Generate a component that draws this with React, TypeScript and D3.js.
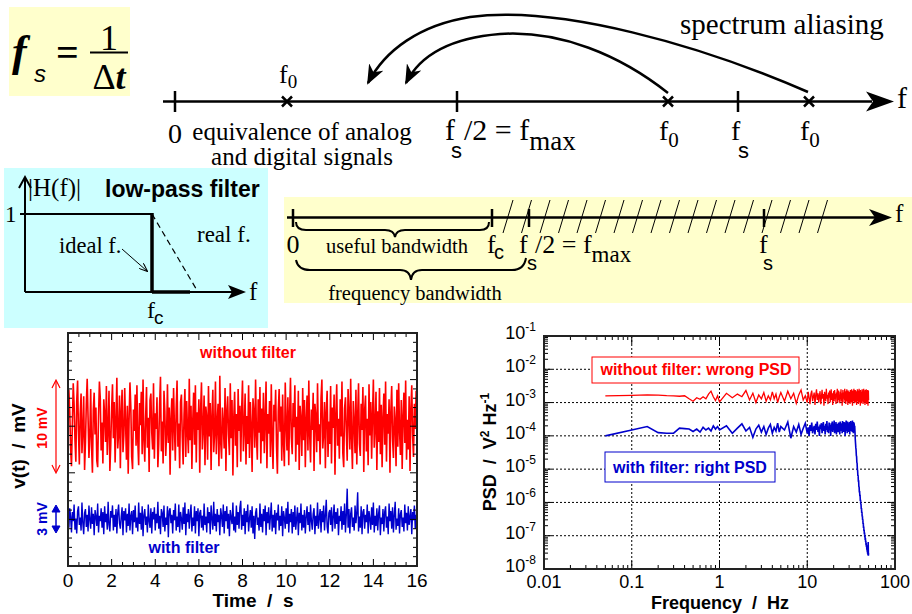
import React from "react";
import * as d3 from "d3";

const SERIF = "'Liberation Serif','Times New Roman',serif";
const SANS = "'Liberation Sans',Arial,sans-serif";

// ---- time traces (mV), sampled every 0.04 s ----
const TIME_STEP_S = 0.04;
const RED_MV = [
  0.8, 3.9, 1.6, -2.4, -4.3, 0.2, 4.6, 2.3, -1.5, -3.8,
  2.7, 4.9, -0.6, -4.1, 1.3, 3.5, -2.9, -0.4, 3.2, -4.7,
  -1.8, 2.4, 5.1, 0.9, -3.4, -1.1, 4.0, -2.2, -5.0, 1.7,
  3.6, -0.9, 2.0, -3.7, -4.4, 1.1, 4.8, 3.0, -2.6, 0.4,
  -4.0, 2.9, 1.2, -1.7, 4.3, -3.1, -0.2, 3.8, -4.8, -2.0,
  1.9, 4.5, -1.3, 2.6, -3.9, 0.6, 5.2, -2.4, -0.8, 3.3,
  -4.5, 1.5, 3.9, -2.8, -1.0, 4.1, 0.3, -3.6, 2.2, -5.1,
  0.7, 4.7, 2.1, -3.3, -4.6, 1.8, -0.5, 3.4, -2.1, 4.4,
  -1.6, -4.2, 2.5, 0.1, 3.7, -3.0, 5.0, -1.4, -3.8, 1.0,
  4.2, -2.3, 0.9, -4.9, 2.8, 3.5, -0.7, -2.5, 4.6, -3.5,
  1.4, -0.3, 3.1, -4.4, -1.9, 2.3, 5.3, -2.7, 0.5, -4.0,
  3.8, 1.6, -3.2, -0.9, 4.5, -1.8, 2.0, -5.2, 0.8, 3.0,
  -2.6, 4.1, -0.1, -3.7, 1.9, 4.9, -2.2, 0.3, -4.5, 2.6,
  3.4, -1.2, -4.1, 1.2, 4.0, -3.3, 2.7, -0.6, -2.9, 5.1,
  -1.5, 2.2, -4.6, 0.6, 3.6, -2.0, 4.4, -3.9, 1.5, -0.4,
  2.9, -5.0, 1.8, 4.7, -2.5, -0.2, 3.3, -4.2, 2.1, 0.9,
  -3.6, 4.3, -1.1, 2.5, -4.7, 1.0, 3.9, -2.8, -0.8, 4.8,
  -3.0, 0.4, 2.4, -4.3, 5.4, -1.7, -3.5, 2.0, 0.2, -2.4,
  4.1, -4.8, 1.6, 3.2, -0.9, -3.1, 4.6, -1.3, 2.8, -5.3,
  0.9, 3.7, -2.1, 1.3, -4.4, 4.0, -0.5, 2.2, -3.8, 1.7,
  4.9, -2.7, -0.3, 3.5, -4.1, 1.1, -1.9, 4.4, -3.4, 2.6,
  0.0, -4.9, 3.0, 1.5, -2.3, 5.0, -1.0, -3.6, 2.9, -0.7,
  4.2, -4.0, 1.9, -1.6, 3.6, -2.9, 0.7, 4.8, -4.5, 1.3,
  -0.8, 2.7, -3.3, 4.5, -1.4, -4.6, 2.3, 0.5, 3.9, -2.2,
  -5.1, 1.6, 4.0, -0.6, 2.1, -3.7, 3.4, -1.8, -4.3, 4.7,
  0.3, -2.6, 3.1, -4.2, 1.4, 5.2, -1.2, -3.0, 2.5, -0.1,
  4.4, -3.8, 1.0, -2.0, 3.8, -4.7, 2.2, 0.8, -3.2, 4.1,
  -1.5, 2.8, -4.4, 0.6, 3.3, -2.6, 4.9, -0.9, -3.9, 1.8,
  -0.4, 3.6, -4.8, 2.4, 1.1, -2.8, 4.6, -1.6, 0.2, -4.1,
  3.0, 5.0, -2.4, -0.7, 2.6, -4.5, 1.5, 3.8, -3.3, 0.5,
  -1.9, 4.3, -4.0, 2.0, -0.2, 3.4, -5.2, 1.2, 4.5, -2.1,
  0.8, -3.5, 2.9, -1.1, 4.8, -2.9, -4.4, 1.9, 3.1, -0.6,
  -3.7, 4.0, 1.4, -2.5, 5.1, -1.3, -4.6, 2.7, 0.4, -2.9,
  3.9, -4.1, 1.1, 4.6, -1.9, -3.2, 2.4, -0.4, 4.2, -4.9,
  1.7, 3.3, -2.7, 0.8, -4.2, 4.5, -1.0, 2.6, -3.5, 1.2,
  5.0, -2.3, -0.1, 3.7, -4.7, 1.6, -1.7, 4.1, -3.0, 2.3,
  -4.4, 0.9, 3.5, -2.0, 4.8, -3.8, 1.3, -0.8, 2.9, -5.0,
  1.5, 4.3, -1.4, -3.4, 2.1, 0.6, -4.3, 3.9, -2.2, 4.6,
  -0.5, -3.1, 2.8, -4.6, 1.0, 3.6, -1.8, 4.9, -3.6, 0.7,
  -2.5, 3.2, -4.8, 1.9, 4.4, -1.1, -3.3, 2.4, -0.3, 3.8,
  -2.0,
];
const BLUE_MV = [
  0.4, -0.9, 1.2, 0.3, -1.4, 0.8, -0.2, 1.6, -1.1, 0.1,
  -1.5, 0.9, 1.4, -0.6, 0.2, -1.2, 1.8, -0.4, -1.6, 0.7,
  1.1, -0.8, 0.5, -1.3, 1.5, 0.0, -1.0, 1.3, -0.5, 0.6,
  -1.7, 1.0, 0.3, -0.7, 1.7, -1.4, 0.4, -0.2, 1.2, -0.9,
  0.8, -1.6, 1.4, -0.3, 0.6, -1.1, 1.9, -0.6, -1.3, 0.9,
  0.2, 1.5, -1.2, 0.5, -0.8, 1.1, -1.5, 0.7, 1.6, -0.4,
  -1.0, 0.3, 1.3, -1.7, 0.9, -0.1, 1.2, -1.4, 0.6, -0.7,
  1.7, -1.2, 0.4, 0.9, -1.6, 1.0, -0.3, 1.5, -0.9, 0.2,
  -1.3, 1.8, -0.5, 0.7, -1.1, 1.4, -1.8, 0.5, 1.1, -0.6,
  0.3, -1.4, 1.6, -0.2, -0.9, 1.2, -1.5, 0.8, 0.0, 1.3,
  -1.2, 0.6, -0.4, 1.9, -1.0, 0.4, -1.6, 1.1, 0.7, -0.8,
  1.5, -1.3, 0.2, -0.6, 1.4, -1.9, 0.9, 1.2, -0.4, 0.5,
  -1.5, 1.0, -0.1, 1.7, -1.2, 0.3, -0.8, 1.6, -1.4, 0.8,
  0.1, -1.1, 1.3, -0.5, 1.8, -1.7, 0.6, -0.3, 1.1, -1.0,
  0.5, 1.6, -1.3, 0.2, -0.7, 1.4, -1.5, 0.9, -0.2, 1.2,
  -1.8, 0.7, 1.0, -0.9, 0.4, -1.2, 1.7, -0.6, 0.3, -1.4,
  1.3, -0.4, 0.8, -1.6, 1.5, 0.1, -1.1, 1.9, -0.7, 0.6,
  -1.3, 1.1, -0.3, 0.5, -1.7, 1.2, 0.4, -0.8, 1.6, -1.5,
  0.9, -0.2, 1.4, -1.0, 0.6, -1.8, 1.0, 0.2, -0.5, 1.8,
  -1.2, 0.3, -1.4, 1.5, -0.6, 0.8, -1.0, 1.3, 2.0, -1.1,
  0.5, -0.7, 1.2, -1.6, 0.9, -0.3, 1.6, -1.3, 0.1, 1.0,
  -0.9, 1.4, -1.5, 0.4, -2.1, 0.7, 1.2, -0.6, 0.2, -1.2,
  1.7, -0.8, 0.6, -1.4, 1.1, -0.2, 1.5, -1.7, 0.8, -0.4,
  1.3, -1.1, 0.3, 1.8, -1.3, 0.5, -0.9, 1.0, -1.6, 0.7,
  -0.1, 1.6, -1.2, 0.4, -0.7, 1.4, -1.8, 0.9, 0.2, -1.0,
  1.2, -0.5, 1.9, -1.4, 0.6, -0.3, 1.1, -1.5, 0.8, -0.8,
  1.5, -1.1, 0.0, 1.3, -1.7, 0.7, -0.4, 1.7, -1.2, 0.5,
  -0.9, 1.0, -1.5, 0.3, 1.4, -0.6, 0.8, -1.3, 1.6, -0.2,
  -1.1, 0.6, 1.2, -1.6, 0.4, -0.7, 1.8, -1.0, 0.2, 1.1,
  -1.4, 0.9, -0.3, 1.5, -1.2, 0.5, 2.1, -0.8, -1.5, 0.7,
  1.0, -0.6, 1.3, -1.3, 0.3, 1.6, -1.0, 0.8, -0.5, 1.2,
  -1.7, 0.4, -0.2, 1.4, -1.1, 0.9, -0.6, 1.7, -1.4, 0.5,
  3.3, -0.9, 1.1, -1.5, 0.6, 1.3, -0.8, 0.2, -1.2, 1.5,
  -0.4, 0.7, 2.9, -1.3, 0.3, -0.9, 1.4, -1.6, 0.8, 1.1,
  -1.0, 0.5, -0.3, 1.6, -1.5, 0.9, 0.1, -1.1, 1.3, -0.6,
  1.8, -1.4, 0.4, -0.7, 1.2, -1.2, 0.6, 1.5, -1.7, 0.2,
  -0.5, 1.1, -1.3, 0.8, 1.4, -0.9, 0.3, -1.6, 1.7, -0.2,
  0.9, -1.0, 1.3, -1.4, 0.5, 1.9, -1.1, 0.1, -0.7, 1.2,
  -1.5, 0.6, 1.0, -0.8, 0.2, -1.3, 1.6, -0.4, 0.7, -1.2,
  1.4, -0.6, 0.3, 1.1, -1.6, 0.8, -0.1, 1.5, -1.0, 0.5,
  -0.3,
];
const RED_OFFSET_MV = 0;
const BLUE_OFFSET_MV = -10;
const TIME_TICKS = [0, 2, 4, 6, 8, 10, 12, 14, 16];

// ---- power spectral densities (V^2/Hz) ----
const FREQ_HZ = [
  ...d3.range(1, 21).map((k) => k * 0.05), // 0.05 .. 1.0
  ...d3.range(6, 26).map((k) => k * 0.2), // 1.2 .. 5.0
  ...d3.range(11, 20).map((k) => k * 0.5), // 5.5 .. 9.5
  ...d3.range(40, 201).map((k) => k * 0.25), // 10 .. 50
];
const PSD_RED_LOW = [
  1.6e-3, 1.65e-3, 1.7e-3, 1.68e-3, 1.62e-3, 1.6e-3, 1.55e-3, 1.6e-3, 1.3e-3, 1.1e-3,
  1.4e-3, 1.25e-3, 1.5e-3, 1.3e-3, 1.8e-3, 2.2e-3, 1.5e-3, 1.15e-3, 1.6e-3, 1.05e-3,
  1.9e-3, 1.4e-3, 1.8e-3, 1.5e-3, 2.3e-3, 1.2e-3, 1.9e-3, 1.0e-3, 1.7e-3, 1.3e-3,
  2.0e-3, 1.1e-3, 1.6e-3, 1.2e-3, 2.1e-3, 1.3e-3, 1.8e-3, 1.0e-3, 1.5e-3, 2.0e-3,
  1.1e-3, 2.2e-3, 1.3e-3, 1.9e-3, 0.95e-3, 1.7e-3, 2.4e-3, 1.2e-3, 1.6e-3,
];
// 10 .. 50 Hz, in units of 1e-3 V^2/Hz
const PSD_RED_HIGH_E3 = [
  1.0, 2.1, 1.4, 0.9, 1.8, 2.3, 1.1, 1.5, 2.0, 0.85,
  1.7, 2.5, 1.2, 1.9, 1.0, 1.6, 2.2, 0.9, 1.4, 2.4,
  1.3, 1.8, 0.8, 2.1, 1.5, 1.1, 2.6, 1.3, 1.7, 0.9,
  2.0, 1.4, 2.3, 1.0, 1.6, 2.5, 1.2, 1.9, 0.85, 1.5,
  2.2, 1.1, 2.4, 1.3, 1.8, 0.9, 2.0, 1.6, 2.6, 1.0,
  1.4, 2.3, 1.2, 1.7, 0.95, 2.1, 1.5, 2.5, 1.1, 1.9,
  0.8, 1.6, 2.4, 1.3, 2.0, 1.0, 1.8, 2.6, 1.2, 1.5,
  0.9, 2.2, 1.4, 2.5, 1.1, 1.7, 0.85, 2.3, 1.3, 1.9,
  1.0, 2.1, 1.6, 0.9, 2.4, 1.2, 1.8, 1.0, 2.5, 1.4,
  2.0, 0.8, 1.7, 2.3, 1.1, 1.5, 2.6, 1.3, 0.95, 2.1,
  1.6, 2.4, 1.0, 1.8, 1.2, 2.2, 0.85, 1.9, 1.4, 2.5,
  1.1, 1.7, 2.3, 0.9, 2.0, 1.3, 2.6, 1.5, 1.0, 2.2,
  1.8, 0.8, 2.4, 1.2, 1.6, 2.1, 0.95, 1.9, 1.4, 2.5,
  1.1, 2.3, 1.7, 0.9, 2.0, 1.3, 2.6, 1.0, 1.6, 2.2,
  1.2, 1.8, 0.85, 2.4, 1.5, 2.1, 1.0, 1.9, 2.5, 1.3,
  0.9, 2.2, 1.6, 2.0, 1.1, 2.4, 1.4, 0.8, 1.8, 2.3,
  1.2,
];
const PSD_BLUE_LOW = [
  1.0e-4, 1.5e-4, 1.9e-4, 1.25e-4, 1.2e-4, 1.2e-4, 1.7e-4, 1.65e-4, 1.6e-4, 1.35e-4,
  1.6e-4, 1.3e-4, 1.8e-4, 1.5e-4, 1.7e-4, 1.4e-4, 2.0e-4, 1.6e-4, 1.9e-4, 1.5e-4,
  2.0e-4, 1.2e-4, 1.7e-4, 2.3e-4, 1.4e-4, 1.8e-4, 0.9e-4, 1.6e-4, 2.1e-4, 1.3e-4,
  1.9e-4, 1.1e-4, 1.7e-4, 2.2e-4, 1.2e-4, 1.8e-4, 1.4e-4, 2.4e-4, 1.3e-4, 1.9e-4,
  1.5e-4, 2.6e-4, 0.85e-4, 1.9e-4, 1.3e-4, 2.2e-4, 1.1e-4, 1.7e-4, 2.4e-4,
];
// 10 .. 34.75 Hz, in units of 1e-4 V^2/Hz
const PSD_BLUE_PLATEAU_E4 = [
  1.2, 1.8, 1.0, 2.1, 1.4, 2.5, 1.2, 1.6, 2.0, 1.1,
  2.3, 1.5, 2.7, 1.3, 1.9, 1.0, 2.2, 1.6, 2.4, 1.2,
  1.8, 2.6, 1.4, 2.0, 1.1, 2.3, 1.5, 2.8, 1.3, 1.9,
  1.2, 2.5, 1.6, 2.1, 1.0, 2.4, 1.4, 2.7, 1.3, 2.2,
  1.7, 2.9, 1.2, 2.0, 1.5, 2.6, 1.1, 2.3, 1.6, 1.9,
  1.3, 2.5, 1.8, 2.2, 1.1, 2.7, 1.4, 2.0, 1.6, 2.4,
  1.2, 2.8, 1.5, 2.1, 1.3, 2.6, 1.7, 2.3, 1.0, 2.5,
  1.4, 2.9, 1.6, 2.2, 1.2, 2.7, 1.5, 2.4, 1.3, 2.0,
  1.8, 2.6, 1.1, 2.3, 1.6, 2.8, 1.4, 2.1, 1.7, 2.5,
  1.3, 2.9, 1.5, 2.2, 1.2, 2.6, 1.8, 2.4, 1.4, 2.0,
];
// 35 .. 50 Hz, anti-aliasing filter roll-off
const PSD_BLUE_ROLLOFF = [
  1.3e-4, 8e-5, 6e-5, 4.5e-5, 3.8e-5, 2.6e-5, 2.4e-5, 1.6e-5, 1.5e-5, 1.0e-5,
  9e-6, 6.2e-6, 6.5e-6, 4.2e-6, 4.6e-6, 3.0e-6, 2.9e-6, 2.0e-6, 2.2e-6, 1.5e-6,
  1.7e-6, 1.1e-6, 1.2e-6, 8.5e-7, 9e-7, 6.2e-7, 6.8e-7, 4.8e-7, 5.2e-7, 3.7e-7,
  4.0e-7, 2.9e-7, 3.1e-7, 2.2e-7, 2.4e-7, 1.7e-7, 1.9e-7, 1.4e-7, 1.5e-7, 1.1e-7,
  1.25e-7, 9e-8, 1.0e-7, 7.5e-8, 8.5e-8, 6.5e-8, 7e-8, 5.2e-8, 6e-8, 4.6e-8,
  5.2e-8, 3.8e-8, 4.4e-8, 3.3e-8, 3.8e-8, 2.9e-8, 3.4e-8, 2.6e-8, 6.5e-8, 2.5e-8,
  3e-8,
];
const PSD_RED = [...PSD_RED_LOW, ...PSD_RED_HIGH_E3.map((v) => v * 1e-3)];
const PSD_BLUE = [...PSD_BLUE_LOW, ...PSD_BLUE_PLATEAU_E4.map((v) => v * 1e-4), ...PSD_BLUE_ROLLOFF];

const FREQ_TICKS = [0.01, 0.1, 1, 10, 100];
const FREQ_TICK_LABELS = ["0.01", "0.1", "1", "10", "100"];
const PSD_EXPONENTS = [-1, -2, -3, -4, -5, -6, -7, -8];

const TIME = RED_MV.map((_, i) => i * TIME_STEP_S);

function Sub({ children, dy, size, sans }: any) {
  return (
    <tspan dy={dy} fontSize={size} fontFamily={sans ? SANS : SERIF}>
      {children}
    </tspan>
  );
}

export default function App() {
  const xT = d3.scaleLinear().domain([0, 16]).range([68, 417]);
  const yV = d3.scaleLinear().domain([-15, 10]).range([566, 333]);
  const redPath = d3
    .line<number>()
    .x((_, i) => xT(TIME[i]))
    .y((d) => yV(d + RED_OFFSET_MV))(RED_MV) as string;
  const bluePath = d3
    .line<number>()
    .x((_, i) => xT(TIME[i]))
    .y((d) => yV(d + BLUE_OFFSET_MV))(BLUE_MV) as string;

  const xF = d3.scaleLog().domain([0.01, 100]).range([544, 895]);
  const yP = d3.scaleLog().domain([1e-8, 1e-1]).range([569, 336]);
  const psdLine = d3
    .line<number>()
    .x((_, i) => xF(FREQ_HZ[i]))
    .y((d) => yP(d));
  const redPsd = psdLine(PSD_RED) as string;
  const bluePsd = psdLine(PSD_BLUE) as string;

  const [lx0, lx1] = xT.range();
  const [ly0, ly1] = [yV(10), yV(-15)];
  const [rx0, rx1] = xF.range();
  const [ry0, ry1] = [yP(1e-1), yP(1e-8)];

  const tMinor = d3.range(0, 16.001, 0.5);
  const vTicks = d3.range(-15, 10.001, 1);
  const fMinor: number[] = [];
  for (let e = -2; e < 2; e++) for (let m = 1; m <= 9; m++) fMinor.push(m * Math.pow(10, e));
  fMinor.push(100);
  const pMinor: number[] = [];
  for (let e = -8; e < -1; e++) for (let m = 1; m <= 9; m++) pMinor.push(m * Math.pow(10, e));
  pMinor.push(0.1);

  const hatchX = d3.range(18).map((i) => 513 + i * 18.5);

  return (
    <svg
      width={912}
      height={614}
      style={{ position: "absolute", left: 0, top: 0, background: "#fff" }}
      fontFamily={SERIF}
    >
      <defs>
        <marker id="bigArrow" viewBox="0 0 20 16" refX="18" refY="8" markerWidth="20" markerHeight="16" markerUnits="userSpaceOnUse" orient="auto">
          <path d="M0,0 L20,8 L0,16 L6,8 Z" fill="#000" />
        </marker>
        <marker id="smallArrow" viewBox="0 0 10 8" refX="9" refY="4" markerWidth="9" markerHeight="7" markerUnits="userSpaceOnUse" orient="auto">
          <path d="M0,0 L10,4 L0,8" fill="none" stroke="#000" strokeWidth="1.2" />
        </marker>
      </defs>

      {/* ===== formula ===== */}
      <rect x={9} y={7} width={121} height={89} fill="#FFFFCC" />
      <text x={12} y={66} fontSize={44} fontStyle="italic" fontWeight="bold">f</text>
      <text x={34} y={82} fontSize={24} fontStyle="italic" fontFamily={SANS}>s</text>
      <text x={56} y={66} fontSize={40} fontWeight="bold">=</text>
      <text x={109} y={50} fontSize={36} textAnchor="middle">1</text>
      <line x1={90} x2={128} y1={52.5} y2={52.5} stroke="#000" strokeWidth={2} />
      <text x={109} y={89} fontSize={36} textAnchor="middle">
        Δ<tspan fontStyle="italic" fontWeight="bold">t</tspan>
      </text>

      {/* ===== top frequency axis ===== */}
      <line x1={163} x2={872} y1={101.5} y2={101.5} stroke="#000" strokeWidth={2.5} />
      <path d="M894,101.5 L866,91.5 L873,101.5 L866,111.5 Z" fill="#000" />
      {[175, 457, 738].map((x) => (
        <line key={x} x1={x} x2={x} y1={91} y2={112} stroke="#000" strokeWidth={2.5} />
      ))}
      {[287, 668, 809].map((x) => (
        <g key={x} stroke="#000" strokeWidth={2.5}>
          <line x1={x - 5} x2={x + 5} y1={96.5} y2={106.5} />
          <line x1={x - 5} x2={x + 5} y1={106.5} y2={96.5} />
        </g>
      ))}
      <path d="M808,92 C700,45 560,5 470,17 C420,25 385,50 368,83" fill="none" stroke="#000" strokeWidth={2.5} markerEnd="url(#bigArrow)" />
      <path d="M668,93 C620,55 560,30 500,34 C450,38 420,55 406,83" fill="none" stroke="#000" strokeWidth={2.5} markerEnd="url(#bigArrow)" />
      <text x={680} y={34} fontSize={29}>spectrum aliasing</text>
      <text x={279} y={83} fontSize={26}>f<Sub dy={5} size={19}>0</Sub></text>
      <text x={175} y={143} fontSize={28} textAnchor="middle">0</text>
      <text x={302} y={140} fontSize={25} textAnchor="middle">equivalence of analog</text>
      <text x={302} y={165} fontSize={25} textAnchor="middle">and digital signals</text>
      <text x={445} y={140} fontSize={30}>f</text>
      <text x={451} y={158} fontSize={22} fontFamily={SANS}>s</text>
      <text x={464} y={140} fontSize={30}>/2 = f<Sub dy={10} size={27}>max</Sub></text>
      <text x={659} y={140} fontSize={28}>f<Sub dy={7} size={21}>0</Sub></text>
      <text x={800} y={140} fontSize={28}>f<Sub dy={7} size={21}>0</Sub></text>
      <text x={731} y={140} fontSize={28}>f</text>
      <text x={738} y={158} fontSize={22} fontFamily={SANS}>s</text>
      <text x={897} y={108} fontSize={30}>f</text>

      {/* ===== low-pass filter ===== */}
      <rect x={4} y={168} width={264} height={160} fill="#CCFFFF" />
      <line x1={25} x2={25} y1={292} y2={178} stroke="#000" strokeWidth={2} />
      <path d="M19,188 L25,177 L31,188" fill="none" stroke="#000" strokeWidth={2} />
      <line x1={25} x2={238} y1={292} y2={292} stroke="#000" strokeWidth={2} />
      <path d="M246,292 L228,285 L232,292 L228,299 Z" fill="#000" />
      <line x1={20} x2={152} y1={214} y2={214} stroke="#000" strokeWidth={2} />
      <line x1={152} x2={152} y1={213} y2={292} stroke="#000" strokeWidth={3.5} />
      <line x1={152} x2={190} y1={292} y2={292} stroke="#000" strokeWidth={3.5} />
      <line x1={152} x2={198} y1={214} y2={292} stroke="#000" strokeWidth={1.2} strokeDasharray="6,4" />
      <line x1={122} x2={147} y1={249} y2={271} stroke="#000" strokeWidth={1} markerEnd="url(#smallArrow)" />
      <text x={5} y={222} fontSize={23}>1</text>
      <text x={28} y={196} fontSize={25}>|H(f)|</text>
      <text x={105} y={197} fontSize={23} fontWeight="bold" fontFamily={SANS}>low-pass filter</text>
      <text x={59} y={253} fontSize={22.5}>ideal f.</text>
      <text x={197} y={242} fontSize={23}>real f.</text>
      <text x={147} y={318} fontSize={24}>f</text>
      <text x={154} y={324} fontSize={19} fontFamily={SANS}>c</text>
      <text x={249} y={300} fontSize={25}>f</text>

      {/* ===== bandwidth band ===== */}
      <rect x={284} y={197} width={628} height={106} fill="#FFFFCC" />
      <line x1={287} x2={876} y1={217.5} y2={217.5} stroke="#000" strokeWidth={2.5} />
      <path d="M892,217.5 L869,209 L875,217.5 L869,226 Z" fill="#000" />
      {hatchX.map((x) => (
        <line key={x} x1={x} x2={x - 10} y1={200} y2={233} stroke="#000" strokeWidth={1} />
      ))}
      {[293, 492, 529, 764].map((x) => (
        <line key={x} x1={x} x2={x} y1={209} y2={227} stroke="#000" strokeWidth={2.5} />
      ))}
      <path d="M296,222 Q296,230 306,230 L385,230 Q394,230 395,237 Q396,230 405,230 L480,230 Q489,230 489,222" fill="none" stroke="#000" strokeWidth={2} />
      <path d="M296,260 Q298,270 310,270 L400,270 Q410,270 411,280 Q412,270 422,270 L512,270 Q524,270 526,258" fill="none" stroke="#000" strokeWidth={2} />
      <text x={293} y={253} fontSize={26} textAnchor="middle">0</text>
      <text x={397} y={253} fontSize={20.5} textAnchor="middle">useful bandwidth</text>
      <text x={487} y={253} fontSize={26}>f</text>
      <text x={494} y={259} fontSize={20} fontFamily={SANS}>c</text>
      <text x={519} y={253} fontSize={26}>f</text>
      <text x={527} y={270} fontSize={20} fontFamily={SANS}>s</text>
      <text x={535} y={253} fontSize={26}>/2 = f<Sub dy={9} size={23}>max</Sub></text>
      <text x={759} y={253} fontSize={26}>f</text>
      <text x={763} y={270} fontSize={20} fontFamily={SANS}>s</text>
      <text x={415} y={300} fontSize={20.5} textAnchor="middle">frequency bandwidth</text>
      <text x={895} y={222} fontSize={25}>f</text>

      {/* ===== left chart: time traces ===== */}
      <g fontFamily={SANS}>
        <path d={redPath} fill="none" stroke="#FF0000" strokeWidth={1.6} strokeLinejoin="bevel" />
        <path d={bluePath} fill="none" stroke="#0000CC" strokeWidth={1.4} strokeLinejoin="bevel" />
        {tMinor.map((t) => {
          const len = t % 2 === 0 ? 7 : 4;
          return (
            <g key={t} stroke="#000" strokeWidth={1}>
              <line x1={xT(t)} x2={xT(t)} y1={ly1} y2={ly1 - len} />
              <line x1={xT(t)} x2={xT(t)} y1={ly0} y2={ly0 + len} />
            </g>
          );
        })}
        {vTicks.map((v) => {
          const len = v % 5 === 0 ? 7 : 4;
          return (
            <g key={v} stroke="#000" strokeWidth={1}>
              <line x1={lx0} x2={lx0 + len} y1={yV(v)} y2={yV(v)} />
              <line x1={lx1} x2={lx1 - len} y1={yV(v)} y2={yV(v)} />
            </g>
          );
        })}
        <rect x={lx0} y={ly0} width={lx1 - lx0} height={ly1 - ly0} fill="none" stroke="#222" strokeWidth={2} />
        {TIME_TICKS.map((t) => (
          <text key={t} x={xT(t)} y={587} fontSize={19} textAnchor="middle">{t}</text>
        ))}
        <text x={253} y={607} fontSize={19} fontWeight="bold" textAnchor="middle" style={{ whiteSpace: "pre" }}>Time  /  s</text>
        <text transform="translate(25,446) rotate(-90)" fontSize={19} fontWeight="bold" textAnchor="middle" style={{ whiteSpace: "pre" }}>v(t)  /  mV</text>
        <text transform="translate(47,428) rotate(-90)" fontSize={14} fontWeight="bold" fill="#FF0000" textAnchor="middle">10 mV</text>
        <text transform="translate(47,519) rotate(-90)" fontSize={14} fontWeight="bold" fill="#0000CC" textAnchor="middle">3 mV</text>
        <line x1={56} x2={56} y1={381} y2={472} stroke="#FF0000" strokeWidth={1.2} />
        <path d="M52,388 L56,380 L60,388 M52,465 L56,473 L60,465" fill="none" stroke="#FF0000" strokeWidth={1.2} />
        <line x1={56} x2={56} y1={507} y2={531} stroke="#0000CC" strokeWidth={1.5} />
        <path d="M52,512 L56,505 L60,512 Z M52,526 L56,533 L60,526 Z" fill="#0000CC" stroke="#0000CC" strokeWidth={1} />
        <text x={248} y={358} fontSize={16} fontWeight="bold" fill="#FF0000" textAnchor="middle">without filter</text>
        <text x={184} y={553} fontSize={16} fontWeight="bold" fill="#0000CC" textAnchor="middle">with filter</text>
      </g>

      {/* ===== right chart: PSD ===== */}
      <g fontFamily={SANS}>
        {FREQ_TICKS.slice(1, -1).map((f) => (
          <line key={f} x1={xF(f)} x2={xF(f)} y1={ry0} y2={ry1} stroke="#000" strokeWidth={1} strokeDasharray="2,2" />
        ))}
        {PSD_EXPONENTS.slice(1, -1).map((e) => (
          <line key={e} x1={rx0} x2={rx1} y1={yP(Math.pow(10, e))} y2={yP(Math.pow(10, e))} stroke="#000" strokeWidth={1} strokeDasharray="2,2" />
        ))}
        {fMinor.map((f, i) => {
          const len = i % 9 === 0 ? 8 : 4;
          return (
            <g key={"fm" + i} stroke="#000" strokeWidth={1}>
              <line x1={xF(f)} x2={xF(f)} y1={ry1} y2={ry1 - len} />
              <line x1={xF(f)} x2={xF(f)} y1={ry0} y2={ry0 + len} />
            </g>
          );
        })}
        {pMinor.map((p, i) => {
          const len = i % 9 === 0 ? 8 : 4;
          return (
            <g key={"pm" + i} stroke="#000" strokeWidth={1}>
              <line x1={rx0} x2={rx0 + len} y1={yP(p)} y2={yP(p)} />
              <line x1={rx1} x2={rx1 - len} y1={yP(p)} y2={yP(p)} />
            </g>
          );
        })}
        <path d={redPsd} fill="none" stroke="#FF0000" strokeWidth={1.3} />
        <path d={bluePsd} fill="none" stroke="#0000CC" strokeWidth={1.6} />
        <rect x={rx0} y={ry0} width={rx1 - rx0} height={ry1 - ry0} fill="none" stroke="#222" strokeWidth={2} />
        {FREQ_TICKS.map((f, i) => (
          <text key={f} x={xF(f)} y={588} fontSize={18} textAnchor="middle">{FREQ_TICK_LABELS[i]}</text>
        ))}
        {PSD_EXPONENTS.map((e) => (
          <text key={e} x={536} y={yP(Math.pow(10, e)) + 3} fontSize={18} textAnchor="end">
            10<tspan dy={-8} fontSize={12}>{e}</tspan>
          </text>
        ))}
        <text x={720} y={609} fontSize={18} fontWeight="bold" textAnchor="middle" style={{ whiteSpace: "pre" }}>Frequency  /  Hz</text>
        <text transform="translate(496,452) rotate(-90)" fontSize={18} fontWeight="bold" textAnchor="middle" style={{ whiteSpace: "pre" }}>
          PSD  /  V<tspan dy={-7} fontSize={12}>2</tspan><tspan dy={7}> Hz</tspan><tspan dy={-7} fontSize={12}>-1</tspan>
        </text>
        <rect x={592} y={357} width={207} height={26} fill="#fff" stroke="#FF0000" strokeWidth={1} />
        <text x={696} y={375} fontSize={16} fontWeight="bold" fill="#FF0000" textAnchor="middle">without filter: wrong PSD</text>
        <rect x={605} y={452} width={170} height={30} fill="#fff" stroke="#0000CC" strokeWidth={1} />
        <text x={690} y={473} fontSize={16} fontWeight="bold" fill="#0000CC" textAnchor="middle">with filter: right PSD</text>
      </g>
    </svg>
  );
}
